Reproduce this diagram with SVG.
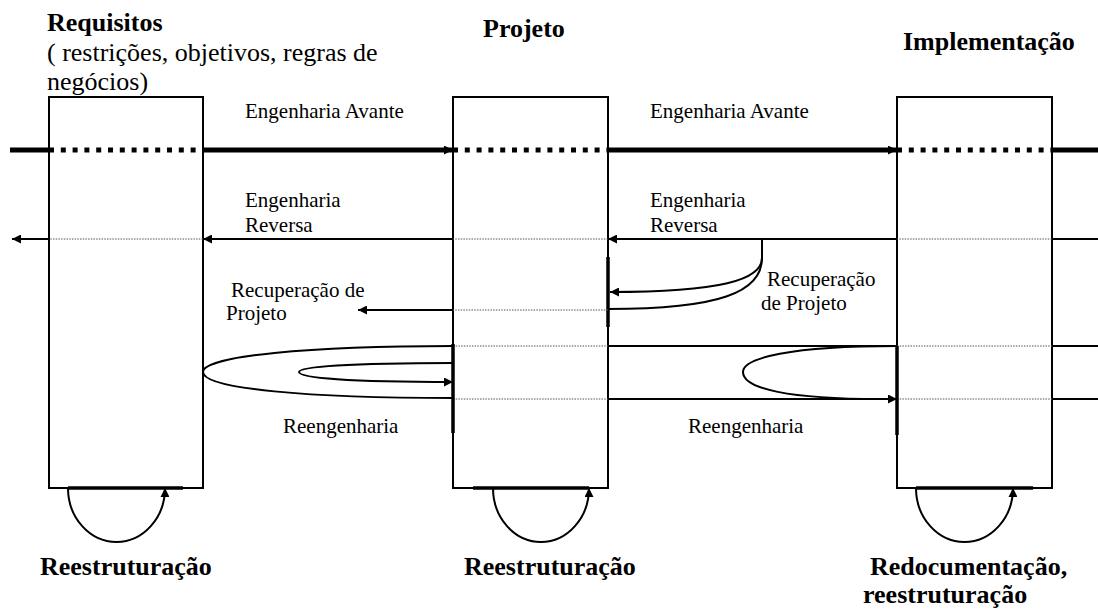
<svg xmlns="http://www.w3.org/2000/svg" width="1098" height="609" viewBox="0 0 1098 609">
<defs>
<style>
text{font-family:"Liberation Serif","Times New Roman",serif;fill:#000}
.t{font-size:21px}
.h{font-size:26px}
.b{font-size:26px;font-weight:bold}
.box{fill:none;stroke:#000;stroke-width:2}
.thick{fill:none;stroke:#000;stroke-width:5}
.tdot{fill:none;stroke:#000;stroke-width:5;stroke-dasharray:5 6.8}
.ln{fill:none;stroke:#000;stroke-width:2}
.dot{fill:none;stroke:#555;stroke-width:1;stroke-dasharray:1.5 1.2}
.edge{fill:none;stroke:#000;stroke-width:3.5}
</style>
<marker id="ah" viewBox="0 0 10 10" refX="10" refY="5" markerWidth="11" markerHeight="9" markerUnits="userSpaceOnUse" orient="auto">
<path d="M0,0 L10,5 L0,10 z" fill="#000"/>
</marker>
</defs>
<rect width="1098" height="609" fill="#fff"/>

<g id="requisitos">
<rect class="box" x="49" y="97" width="154" height="391"/>
<text class="b" x="47" y="31">Requisitos</text>
<text class="h" x="47" y="61">( restrições, objetivos, regras de</text>
<text class="h" x="47" y="90">negócios)</text>
</g>
<g id="projeto">
<rect class="box" x="453" y="97" width="155" height="391"/>
<text class="b" x="483" y="37">Projeto</text>
</g>
<g id="implementacao">
<rect class="box" x="897" y="97" width="155" height="391"/>
<text class="b" x="903" y="50">Implementação</text>
</g>

<g id="connectors">
<!-- Engenharia Avante -->
<path class="thick" d="M10,150 H49"/>
<path class="tdot" d="M49,150 H203"/>
<path class="thick" d="M203,150 H453" marker-end="url(#ah)"/>
<path class="tdot" d="M453,150 H608"/>
<path class="thick" d="M608,150 H897" marker-end="url(#ah)"/>
<path class="tdot" d="M897,150 H1052"/>
<path class="thick" d="M1052,150 H1098"/>
<!-- Engenharia Reversa -->
<path class="ln" d="M1098,239 H1052"/>
<path class="dot" d="M1052,239 H897"/>
<path class="ln" d="M897,239 H608" marker-end="url(#ah)"/>
<path class="dot" d="M608,239 H453"/>
<path class="ln" d="M453,239 H203" marker-end="url(#ah)"/>
<path class="dot" d="M203,239 H49"/>
<path class="ln" d="M49,239 H12" marker-end="url(#ah)"/>
<!-- Recuperacao de Projeto -->
<path class="ln" d="M762,239 V258 C762,280 720,292 610,292" marker-end="url(#ah)"/>
<path class="ln" d="M762,258 C762,292 720,309 608,309"/>
<path class="edge" d="M608,257 V327"/>
<path class="dot" d="M608,310 H453"/>
<path class="ln" d="M453,310 H358" marker-end="url(#ah)"/>
<!-- Reengenharia -->
<path class="ln" d="M453,346 C310,346 203,356 203,372 C203,389 310,398 453,398"/>
<path class="ln" d="M453,363 C350,363 299,367 299,372 C299,378 350,382 453,382" marker-end="url(#ah)"/>
<path class="dot" d="M453,346 H608"/>
<path class="dot" d="M453,399 H608"/>
<path class="ln" d="M608,346 H897"/>
<path class="ln" d="M608,399 H897" marker-end="url(#ah)"/>
<path class="ln" d="M897,346 C790,346 743,358 743,372 C743,389 790,399 880,399"/>
<path class="dot" d="M897,346 H1052"/>
<path class="dot" d="M897,399 H1052"/>
<path class="ln" d="M1052,346 H1098"/>
<path class="ln" d="M1052,399 H1098"/>
<path class="edge" d="M453,344 V433"/>
<path class="edge" d="M897,346 V435"/>
<!-- Reestruturacao loops -->
<path class="edge" d="M68,488 H183"/>
<path class="ln" d="M68,488 A48.5,54 0 0 0 165,488" marker-end="url(#ah)"/>
<path class="edge" d="M473,488 H589"/>
<path class="ln" d="M493,488 A48,54 0 0 0 589,488" marker-end="url(#ah)"/>
<path class="edge" d="M916,488 H1033"/>
<path class="ln" d="M916,488 A48.5,54 0 0 0 1013,488" marker-end="url(#ah)"/>
</g>

<g id="labels">
<text class="t" x="245" y="118">Engenharia Avante</text>
<text class="t" x="650" y="118">Engenharia Avante</text>
<text class="t" x="245" y="207">Engenharia</text>
<text class="t" x="245" y="232">Reversa</text>
<text class="t" x="650" y="207">Engenharia</text>
<text class="t" x="650" y="232">Reversa</text>
<text class="t" x="231" y="297">Recuperação de</text>
<text class="t" x="226" y="320">Projeto</text>
<text class="t" x="767" y="286">Recuperação</text>
<text class="t" x="761" y="310">de Projeto</text>
<text class="t" x="283" y="433">Reengenharia</text>
<text class="t" x="688" y="433">Reengenharia</text>
<text class="b" x="40" y="575">Reestruturação</text>
<text class="b" x="464" y="575">Reestruturação</text>
<text class="b" x="870" y="575">Redocumentação,</text>
<text class="b" x="863" y="603">reestruturação</text>
</g>
</svg>
